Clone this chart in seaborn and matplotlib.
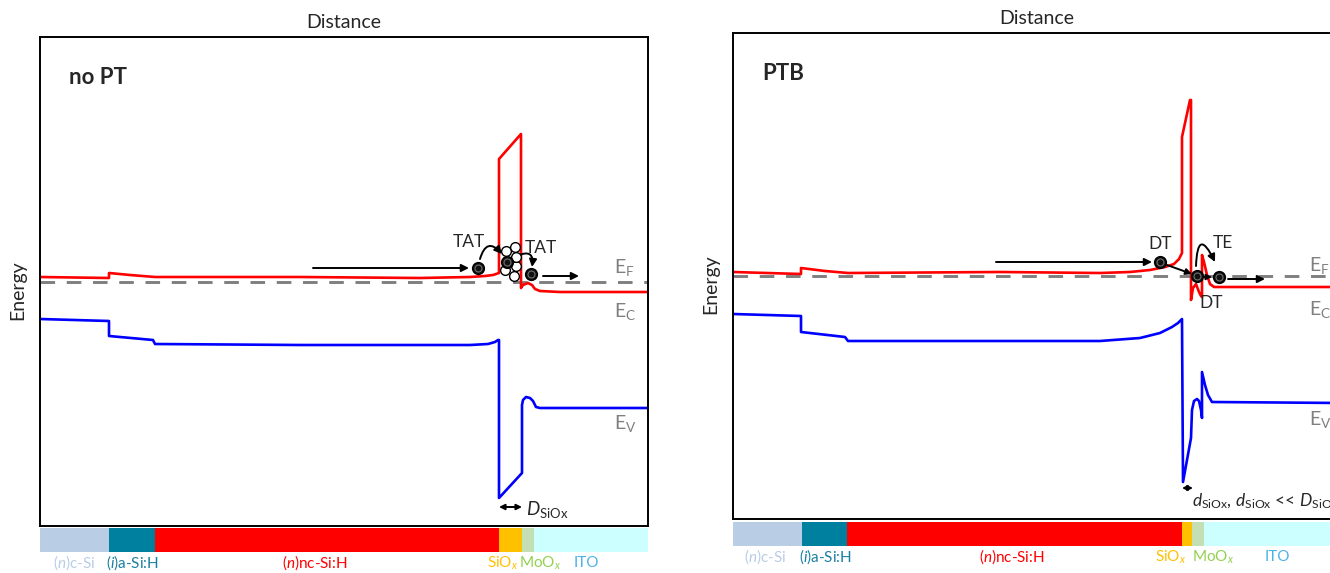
import numpy as np
import pandas as pd
import matplotlib
matplotlib.use("Agg")
import matplotlib.pyplot as plt
import seaborn as sns

sns.set_style("white")
plt.rcParams['font.family'] = ['Lato', 'DejaVu Sans']
plt.rcParams['mathtext.fontset'] = 'custom'
plt.rcParams['mathtext.rm'] = 'Lato'
plt.rcParams['mathtext.it'] = 'Lato:italic'
plt.rcParams['mathtext.bf'] = 'Lato:bold'

# ---------------- data (position, energy; arbitrary units) -------------
# panel "no PT"
L_ec_x = [0, 69, 69, 90, 115, 260, 380, 430, 445, 453, 459, 459, 481, 481, 483, 488, 492, 495, 500, 520, 608]
L_ec_y = [249, 248, 253, 251, 249, 249, 248, 249, 250, 251, 253, 367, 392, 238, 241, 243, 241, 237, 235, 234, 234]
L_ev_x = [0, 69, 69, 113, 115, 260, 430, 448, 455, 458, 459, 459, 482, 482, 483, 486, 490, 493, 496, 500, 608]
L_ev_y = [207, 205, 190, 186, 182, 181, 181, 182, 184, 186, 186, 28, 53, 121, 126, 129, 128, 125, 119, 118, 118]
L_ef = 244

# panel "PTB"
R_ec_x = [0, 68, 68, 92, 115, 267, 367, 397, 417, 432, 441, 446, 449, 449, 457, 458, 458, 460, 463, 466,
          468, 469, 469, 471, 474, 477, 481, 608]
R_ec_y = [247, 245, 251, 248, 246, 247, 246, 247, 249, 252, 255, 260, 266, 382, 419, 419, 219, 231, 235, 227,
          223, 222, 264, 257, 244, 235, 232, 232]
R_ev_x = [0, 68, 68, 112, 115, 267, 367, 407, 427, 439, 445, 449, 450, 458, 459, 461, 464, 466, 468, 469,
          469, 472, 475, 479, 608]
R_ev_y = [205, 203, 187, 182, 178, 178, 178, 181, 186, 192, 196, 200, 37, 81, 109, 118, 120, 118, 109, 101,
          147, 134, 124, 117, 116]
R_ef = 243

# layer stack
layer_names = ["(n)c-Si", "(i)a-Si:H", "(n)nc-Si:H", "SiOx", "MoOx", "ITO"]
layer_labels = [r"($\it{n}$)c-Si", r"($\it{i}$)a-Si:H", r"($\it{n}$)nc-Si:H",
                r"SiO$_{\it{x}}$", r"MoO$_{\it{x}}$", "ITO"]
layer_bar_colors = ["#B9CDE5", "#00809F", "#FF0000", "#FFC000", "#C4DFB4", "#CCFFFF"]
layer_text_colors = ["#B9CDE5", "#1A7FA0", "#FF0000", "#FFC000", "#92D050", "#4DB3E6"]
L_bounds = [0, 69, 115, 459, 482, 494, 608]
R_bounds = [0, 69, 114, 449, 459, 471, 608]
L_label_x = [34, 92, 275, 463, 500, 546]
R_label_x = [32, 92, 279, 438, 480, 544]

# carriers / traps
L_electrons = [(438, 258), (467, 264), (491, 252)]
L_traps = [(466, 275), (475, 279), (465, 256), (474, 250), (476, 260), (476, 269)]
R_electrons = [(427, 257), (464, 243), (486, 242)]

# ---------------- figure -------------
W, H = 1330, 573
fig = plt.figure(figsize=(W / 100, H / 100), dpi=100)

def px_axes(x0, ytop, w, h):
    return fig.add_axes([x0 / W, (H - ytop - h) / H, w / W, h / H])

axL = px_axes(40, 37, 608, 489)
axR = px_axes(733, 33, 608, 486)
barL = px_axes(40, 528, 608, 24)
barR = px_axes(733, 522, 608, 24)

RED = "#FF0000"
BLUE = "#0000FF"
GRAY = "#7F7F7F"
LW = 1.9


def band_panel(ax, ec_x, ec_y, ev_x, ev_y, ef, ymax):
    ax.set_xlim(0, 608)
    ax.set_ylim(0, ymax)
    sns.lineplot(x=ec_x, y=ec_y, sort=False, estimator=None, color=RED, lw=LW, ax=ax)
    sns.lineplot(x=ev_x, y=ev_y, sort=False, estimator=None, color=BLUE, lw=LW, ax=ax)
    ax.plot([0, 608], [ef, ef], color=GRAY, lw=2.1, dashes=(5.0, 4.0), zorder=1)
    ax.set_xticks([])
    ax.set_yticks([])
    ax.set_xlabel("")
    ax.set_ylabel("")
    for s in ax.spines.values():
        s.set_color("black")
        s.set_linewidth(1.4)
    ax.text(0.5, 1 + 15 / ymax, "Distance", transform=ax.transAxes, ha="center", va="center",
            fontsize=14)
    ax.text(-22 / 608, 0.483, "Energy", transform=ax.transAxes, ha="center", va="center",
            rotation=90, fontsize=14)


def layer_bar(ax, bounds, label_x):
    ax.set_xlim(0, 608)
    ax.set_ylim(0, 1)
    ax.axis("off")
    for i in range(len(layer_names)):
        ax.barh(0.5, bounds[i + 1] - bounds[i], left=bounds[i], height=1.0,
                color=layer_bar_colors[i], lw=0)
        ax.text(label_x[i], -0.45, layer_labels[i], color=layer_text_colors[i],
                ha="center", va="center", fontsize=11, transform=ax.transData)


def arrow(ax, start, end, rad=0.0, lw=1.4, ms=11):
    ax.annotate("", xy=end, xytext=start,
                arrowprops=dict(arrowstyle="-|>", color="black", lw=lw, mutation_scale=ms,
                                shrinkA=0, shrinkB=0,
                                connectionstyle=f"arc3,rad={rad}"))


def electrons(ax, pts):
    for (x, y) in pts:
        ax.plot(x, y, "o", ms=8.5, mfc="#111111", mec="black", mew=1.0, zorder=6)
        ax.plot(x, y, "o", ms=5.0, mfc="#111111", mec="#707070", mew=0.8, zorder=7)


def band_labels(ax, x, yf, yc, yv):
    ax.text(x, yf, r"E$_\mathrm{F}$", color=GRAY, fontsize=14, ha="left", va="center")
    ax.text(x, yc, r"E$_\mathrm{C}$", color=GRAY, fontsize=14, ha="left", va="center")
    ax.text(x, yv, r"E$_\mathrm{V}$", color=GRAY, fontsize=14, ha="left", va="center")


# ----- left panel -----
band_panel(axL, L_ec_x, L_ec_y, L_ev_x, L_ev_y, L_ef, 489)
layer_bar(barL, L_bounds, L_label_x)
axL.text(29, 449, "no PT", fontsize=16, fontweight="bold", ha="left", va="center")
band_labels(axL, 574, 259, 215, 103)
arrow(axL, (273, 258), (429, 258))
for (x, y) in L_traps:
    axL.plot(x, y, "o", ms=7, mfc="white", mec="black", mew=1.0, zorder=5)
electrons(axL, L_electrons)
arrow(axL, (440, 267), (462, 272), rad=-0.9)
arrow(axL, (477, 270), (492, 259), rad=-0.9)
axL.text(429, 284, "TAT", fontsize=12.5, ha="center", va="center")
axL.text(501, 278, "TAT", fontsize=12.5, ha="center", va="center")
arrow(axL, (503, 250), (539, 250))
axL.annotate("", xy=(482, 19), xytext=(459, 19),
             arrowprops=dict(arrowstyle="<|-|>", color="black", lw=1.4, mutation_scale=8,
                             shrinkA=0, shrinkB=0))
axL.text(486, 17, r"$\it{D}_\mathrm{SiOx}$", fontsize=13.5, ha="left", va="center")

# ----- right panel -----
band_panel(axR, R_ec_x, R_ec_y, R_ev_x, R_ev_y, R_ef, 486)
layer_bar(barR, R_bounds, R_label_x)
axR.text(29, 446, "PTB", fontsize=16, fontweight="bold", ha="left", va="center")
band_labels(axR, 576, 254, 209, 99)
arrow(axR, (263, 257), (419, 257))
arrow(axR, (434, 254), (459, 245), ms=9)
arrow(axR, (470, 242), (479, 242), ms=8)
arrow(axR, (495, 240), (532, 240))
arrow(axR, (463, 253), (482, 257), rad=-2.0)
electrons(axR, R_electrons)
axR.text(427, 275, "DT", fontsize=12.5, ha="center", va="center")
axR.text(490, 276, "TE", fontsize=12.5, ha="center", va="center")
axR.text(478, 216, "DT", fontsize=12.5, ha="center", va="center")
axR.annotate("", xy=(460, 31), xytext=(449, 31),
             arrowprops=dict(arrowstyle="<|-|>", color="black", lw=1.4, mutation_scale=7,
                             shrinkA=0, shrinkB=0))
axR.text(459, 18, r"$\it{d}_\mathrm{SiOx}$, $\it{d}_\mathrm{SiOx}$ << $\it{D}_\mathrm{SiOx}$",
         fontsize=12.5, ha="left", va="center")

fig.savefig("out.png", dpi=100)
